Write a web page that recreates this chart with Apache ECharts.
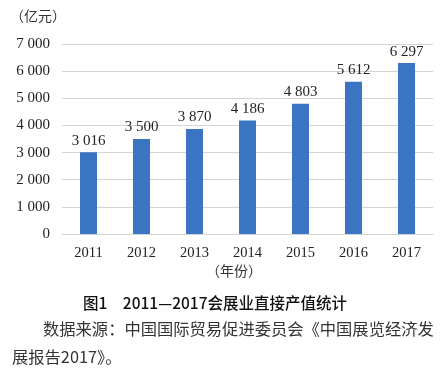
<!DOCTYPE html>
<html>
<head>
<meta charset="utf-8">
<script src="https://cdn.jsdelivr.net/npm/echarts@6/dist/echarts.min.js"></script>
<style>
  html, body { margin: 0; padding: 0; background: #fff; }
  #container { width: 444px; height: 377px; }
</style>
</head>
<body>
<div id="container"></div>
<script>
var years = ['2011', '2012', '2013', '2014', '2015', '2016', '2017'];
var output = [3016, 3500, 3870, 4186, 4803, 5612, 6297];
var yTicks = [0, 1000, 2000, 3000, 4000, 5000, 6000, 7000];

var serif = '"Liberation Serif", "Times New Roman", serif';
var cjk = '"Noto Sans CJK SC", sans-serif';

// 3016 -> "3 016"
function spaced(v) {
  return String(v).replace(/\B(?=(\d{3})+(?!\d))/g, ' ');
}

var dom = document.getElementById('container');
var myChart = echarts.init(dom);

var option = {
  animation: false,
  backgroundColor: '#fff',
  grid: {
    left: 62,
    right: 11,
    top: 44,
    bottom: 143
  },
  xAxis: {
    type: 'category',
    data: years,
    axisLine: { show: true, lineStyle: { color: '#d4d4d4' } },
    axisTick: { show: false },
    axisLabel: {
      color: '#222',
      fontFamily: serif,
      fontSize: 14.5,
      margin: 12
    }
  },
  yAxis: {
    type: 'value',
    min: yTicks[0],
    max: yTicks[yTicks.length - 1],
    interval: 1000,
    axisLine: { show: false },
    axisTick: { show: false },
    splitLine: { lineStyle: { color: '#d4d4d4' } },
    axisLabel: {
      color: '#222',
      fontFamily: serif,
      fontSize: 15,
      margin: 12,
      formatter: function (v) { return spaced(v); }
    }
  },
  series: [
    {
      type: 'bar',
      data: output,
      barWidth: 17,
      itemStyle: { color: '#3b74c2' },
      label: {
        show: true,
        position: 'top',
        distance: 4,
        color: '#222',
        fontFamily: serif,
        fontSize: 15,
        formatter: function (p) { return spaced(p.value); }
      }
    }
  ],
  graphic: [
    {
      type: 'text',
      left: 10,
      top: 9,
      style: { text: '（亿元）', font: '14px ' + cjk, fill: '#333' }
    },
    {
      type: 'text',
      left: 206,
      top: 264,
      style: { text: '（年份）', font: '14px ' + cjk, fill: '#333' }
    },
    {
      type: 'text',
      left: 83,
      top: 295,
      style: { text: '图1　2011—2017会展业直接产值统计', font: '500 15.5px ' + cjk, fill: '#111' }
    },
    {
      type: 'text',
      left: 43,
      top: 321,
      style: { text: '数据来源：中国国际贸易促进委员会《中国展览经济发', font: '16.3px ' + cjk, fill: '#333' }
    },
    {
      type: 'text',
      left: 12,
      top: 349,
      style: { text: '展报告2017》。', font: '16.3px ' + cjk, fill: '#333' }
    }
  ]
};

myChart.setOption(option);
</script>
</body>
</html>
